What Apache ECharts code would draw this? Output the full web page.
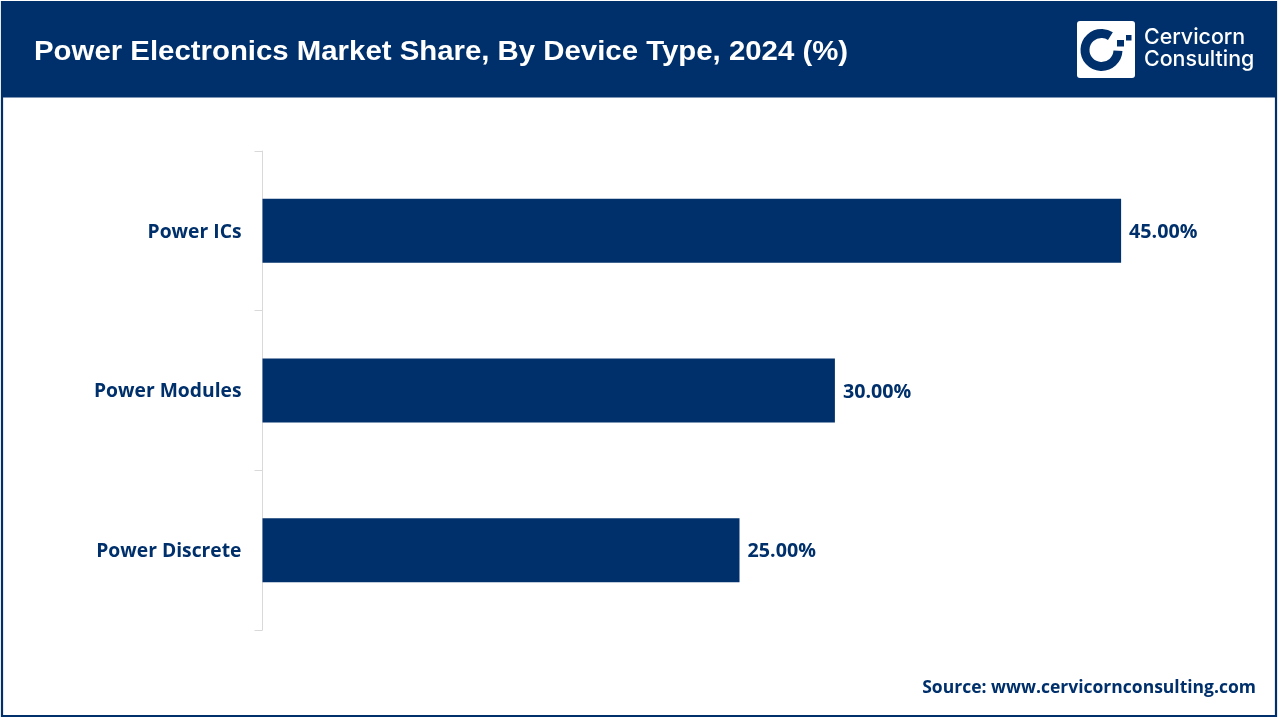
<!DOCTYPE html>
<html>
<head>
<meta charset="utf-8">
<style>html,body{margin:0;padding:0;background:#fff}#c{width:1280px;height:720px}</style>
<script src="https://cdn.jsdelivr.net/npm/echarts@6/dist/echarts.min.js"></script>
</head>
<body>
<div id="c"></div>
<script>
const categories = ['Power ICs', 'Power Modules', 'Power Discrete'];
const shares = [45, 30, 25];
const titleText = 'Power Electronics Market Share, By Device Type, 2024 (%)';
const sourceText = 'Source: www.cervicornconsulting.com';
const navy = '#00306b';
const chart = echarts.init(document.getElementById('c'), null, {renderer: 'canvas'});
chart.setOption({
  animation: false,
  backgroundColor: '#ffffff',
  grid: {left: 262.5, top: 151, width: 954, height: 479, containLabel: false},
  xAxis: {type: 'value', min: 0, max: 50, show: false},
  yAxis: {
    type: 'category', inverse: true, data: categories,
    axisLine: {show: true, lineStyle: {color: '#d9d9d9', width: 1}},
    axisTick: {show: true, length: 8, lineStyle: {color: '#d9d9d9', width: 1}},
    axisLabel: {
      margin: 21,
      formatter: v => '{a|' + v + '}',
      rich: {a: {color: navy, fontFamily: 'Open Sans', fontWeight: 700, fontSize: 19.3, padding: [3, 0, 0, 0]}}
    }
  },
  series: [{
    type: 'bar', data: shares, barWidth: 64,
    itemStyle: {color: navy},
    label: {show: true, position: 'right', distance: 8, offset: [0, 1.5], color: navy, fontFamily: 'Open Sans', fontWeight: 700, fontSize: 19.7,
      formatter: p => p.value.toFixed(2) + '%'}
  }],
  graphic: [
    {type: 'rect', z: -1, shape: {x: 2, y: 2, width: 1274, height: 714}, style: {fill: 'none', stroke: navy, lineWidth: 2.2}},
    {type: 'rect', z: 10, shape: {x: 1, y: 1, width: 1276, height: 96.5}, style: {fill: navy}},
    {type: 'text', z: 11, x: 34, y: 52.5, scaleX: 1.049, style: {text: titleText, fill: '#fff', font: 'bold 28px "Liberation Sans"', textVerticalAlign: 'middle'}},
    {type: 'rect', z: 11, shape: {x: 1077, y: 21, width: 58, height: 57, r: 3}, style: {fill: '#fff'}},
    {type: 'arc', z: 12, shape: {cx: 1101.5, cy: 50, r: 16.5, startAngle: 0.05, endAngle: -1.0, clockwise: true}, style: {fill: 'none', stroke: navy, lineWidth: 9}},
    {type: 'rect', z: 12, shape: {x: 1117, y: 40, width: 7, height: 6.5}, style: {fill: navy}},
    {type: 'rect', z: 12, shape: {x: 1126, y: 35, width: 5.5, height: 5.5}, style: {fill: navy}},
    {type: 'text', z: 11, x: 1144, y: 37.5, style: {text: 'Cervicorn', fill: '#fff', font: '500 21.4px Inter', textVerticalAlign: 'middle'}},
    {type: 'text', z: 11, x: 1144, y: 59.5, style: {text: 'Consulting', fill: '#fff', font: '500 21.4px Inter', textVerticalAlign: 'middle'}},
    {type: 'text', z: 11, x: 1256, y: 688, style: {text: sourceText, fill: navy, font: '700 17.5px "Open Sans"', textAlign: 'right', textVerticalAlign: 'middle'}}
  ]
});
</script>
</body>
</html>
